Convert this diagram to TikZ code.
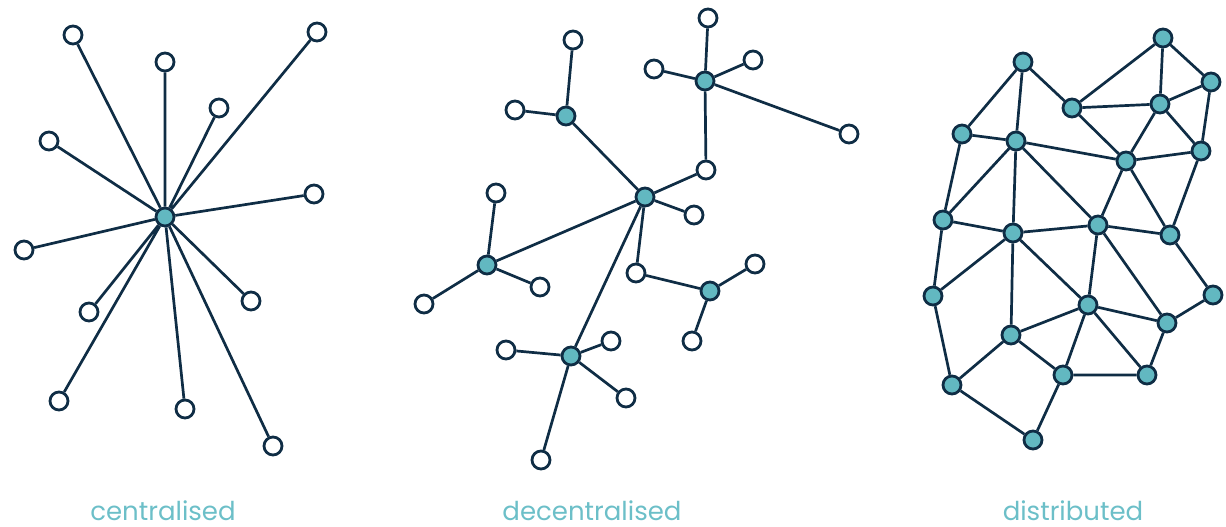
\documentclass[tikz,border=0pt]{standalone}
\usepackage{fontspec}
\setmainfont{Poppins}
\definecolor{navy}{HTML}{0F2D45}
\definecolor{teal}{HTML}{62B8C1}
\definecolor{caption}{HTML}{6CBFC8}
\tikzset{
  leaf/.style={circle,draw=navy,fill=white,line width=2.8pt,minimum size=18pt,inner sep=0pt},
  hub/.style={circle,draw=navy,fill=teal,line width=2.8pt,minimum size=18pt,inner sep=0pt},
  link/.style={draw=navy,line width=2.7pt},
  title/.style={text=caption,font=\fontsize{26}{30}\selectfont,anchor=base,inner sep=0pt,text depth=0pt}
}
\begin{document}
\begin{tikzpicture}[x=1pt,y=-1pt]
\useasboundingbox (0,0) rectangle (1226,527);
% centralised
\node[hub] (c) at (165,217) {};
\node[leaf] (c1) at (73,35) {};
\node[leaf] (c2) at (165,62) {};
\node[leaf] (c3) at (219,108) {};
\node[leaf] (c4) at (317,32) {};
\node[leaf] (c5) at (49,141) {};
\node[leaf] (c6) at (314,194) {};
\node[leaf] (c7) at (24,250) {};
\node[leaf] (c8) at (89,312) {};
\node[leaf] (c9) at (251,301) {};
\node[leaf] (c10) at (59,401) {};
\node[leaf] (c11) at (185,409) {};
\node[leaf] (c12) at (273,446) {};
\draw[link] (c) -- (c1) (c) -- (c2) (c) -- (c3) (c) -- (c4) (c) -- (c5) (c) -- (c6);
\draw[link] (c) -- (c7) (c) -- (c8) (c) -- (c9) (c) -- (c10) (c) -- (c11) (c) -- (c12);
\node[title] (ctitle) at (163,520) {centralised};
% decentralised
\node[hub] (ha) at (645,197) {};
\node[hub] (hb) at (566,116) {};
\node[hub] (hc) at (705,81) {};
\node[hub] (hd) at (487,265) {};
\node[hub] (he) at (571,356) {};
\node[hub] (hf) at (710,291) {};
\node[leaf] (b1) at (573,40) {};
\node[leaf] (b2) at (515,110) {};
\node[leaf] (k1) at (708,18) {};
\node[leaf] (k2) at (654,69) {};
\node[leaf] (k3) at (753,60) {};
\node[leaf] (k4) at (849,134) {};
\node[leaf] (k5) at (706,170) {};
\node[leaf] (a1) at (694,215) {};
\node[leaf] (a2) at (636,273) {};
\node[leaf] (g1) at (496,193) {};
\node[leaf] (g2) at (424,304) {};
\node[leaf] (g3) at (540,287) {};
\node[leaf] (e1) at (506,350) {};
\node[leaf] (e2) at (611,341) {};
\node[leaf] (e3) at (626,398) {};
\node[leaf] (e4) at (541,460) {};
\node[leaf] (f1) at (755,264) {};
\node[leaf] (f2) at (692,341) {};
\draw[link] (hb) -- (b1) (hb) -- (b2) (hb) -- (ha);
\draw[link] (hc) -- (k1) (hc) -- (k2) (hc) -- (k3) (hc) -- (k4) (hc) -- (k5) -- (ha);
\draw[link] (ha) -- (a1) (ha) -- (hd) (ha) -- (he) (ha) -- (a2) -- (hf);
\draw[link] (hd) -- (g1) (hd) -- (g2) (hd) -- (g3);
\draw[link] (he) -- (e1) (he) -- (e2) (he) -- (e3) (he) -- (e4);
\draw[link] (hf) -- (f1) (hf) -- (f2);
\node[title] (dtitle) at (592,520) {decentralised};
% distributed
\node[hub] (d1) at (1023,62) {};
\node[hub] (d2) at (1163,38) {};
\node[hub] (d3) at (1211,82) {};
\node[hub] (d4) at (1072,108) {};
\node[hub] (d5) at (1160,104) {};
\node[hub] (d6) at (962,134) {};
\node[hub] (d7) at (1016,141) {};
\node[hub] (d8) at (1126,161) {};
\node[hub] (d9) at (1201,151) {};
\node[hub] (d10) at (943,220) {};
\node[hub] (d11) at (1013,233) {};
\node[hub] (d12) at (1098,225) {};
\node[hub] (d13) at (1170,235) {};
\node[hub] (d14) at (933,296) {};
\node[hub] (d15) at (1213,295) {};
\node[hub] (d16) at (1088,305) {};
\node[hub] (d17) at (1167,323) {};
\node[hub] (d18) at (1011,335) {};
\node[hub] (d19) at (952,385) {};
\node[hub] (d20) at (1063,375) {};
\node[hub] (d21) at (1147,375) {};
\node[hub] (d22) at (1033,440) {};
\draw[link] (d1) -- (d6) (d1) -- (d7) (d1) -- (d4) (d2) -- (d4) (d2) -- (d5) (d2) -- (d3);
\draw[link] (d3) -- (d5) (d3) -- (d9) (d4) -- (d5) (d4) -- (d8) (d5) -- (d8) (d5) -- (d9);
\draw[link] (d6) -- (d7) (d6) -- (d10) (d7) -- (d8) (d7) -- (d10) (d7) -- (d11) (d7) -- (d12);
\draw[link] (d8) -- (d9) (d8) -- (d12) (d8) -- (d13) (d9) -- (d13) (d10) -- (d11) (d11) -- (d12);
\draw[link] (d12) -- (d13) (d10) -- (d14) (d11) -- (d14) (d11) -- (d18) (d11) -- (d16) (d12) -- (d16);
\draw[link] (d12) -- (d17) (d13) -- (d15) (d14) -- (d19) (d15) -- (d17) (d16) -- (d17) (d16) -- (d18);
\draw[link] (d16) -- (d20) (d16) -- (d21) (d17) -- (d21) (d18) -- (d19) (d18) -- (d20) (d20) -- (d21);
\draw[link] (d19) -- (d22) (d20) -- (d22);
\node[title] (stitle) at (1073,520) {distributed};
\end{tikzpicture}
\end{document}
